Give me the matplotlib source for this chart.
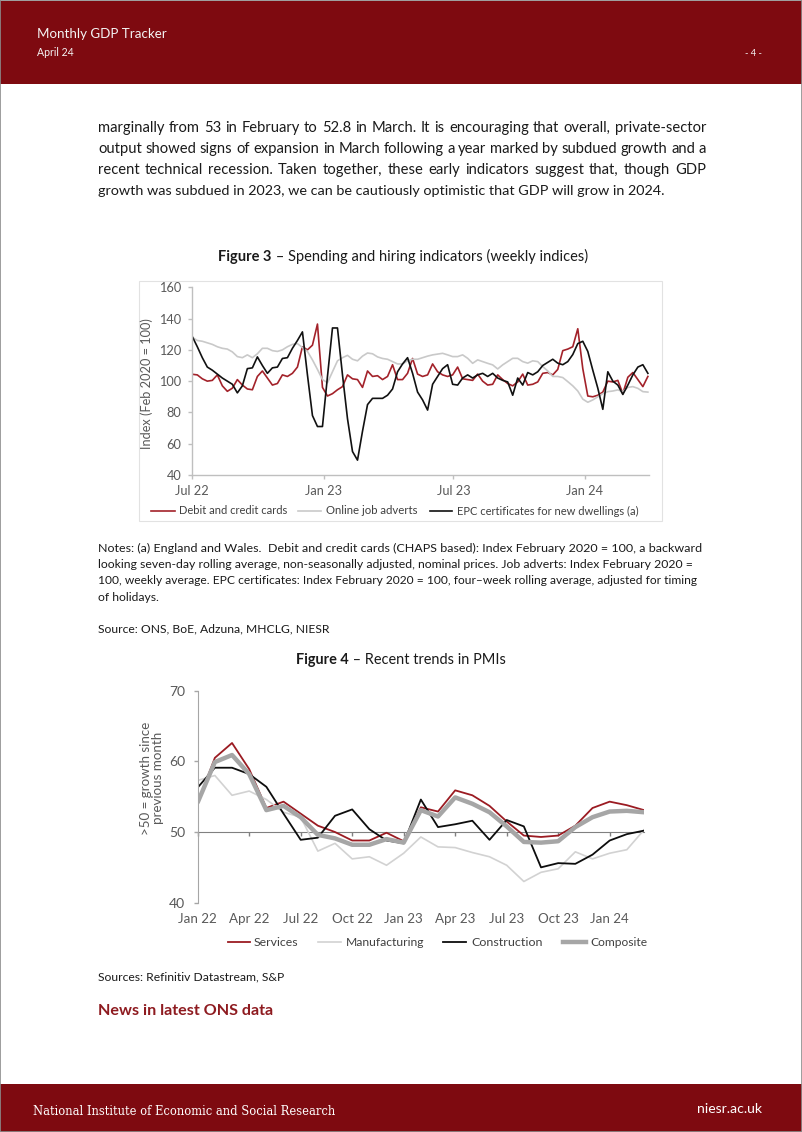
import matplotlib
matplotlib.use('Agg')
import matplotlib.pyplot as plt
from matplotlib.patches import Rectangle
from matplotlib.lines import Line2D
import numpy as np
import pandas as pd

plt.rcParams['font.family'] = ['Lato', 'DejaVu Sans']

# ---------------- data: Figure 3 (weekly indices, Feb 2020 = 100) ----------------
week_start = '2022-07-01'
cards = [104.4, 104, 101.5, 100, 100.5, 104, 97, 93.5, 95.5, 101,
         97.5, 95, 94.5, 103, 106.5, 102, 97.5, 98.5, 104, 103,
         105, 109, 122, 120, 123, 136.5, 96, 90.5, 92, 94.5,
         96.5, 104, 101.5, 101, 96, 106.5, 103, 103.5, 101, 103,
         110.5, 101, 101, 105, 114.5, 104.5, 103, 104, 111, 106,
         104, 103, 104, 109, 101.5, 101, 100.5, 104.5, 100, 97.5,
         98, 104, 101, 98.5, 97, 99.5, 104.5, 97.5, 98, 99.5,
         105, 105.5, 104, 107.5, 119.5, 120.5, 122, 133.5, 108, 90.5,
         90, 91, 93, 100, 99.5, 100.5, 92, 102.5, 105.5, 101,
         96.5, 103]
job_adverts = [128, 126, 125.5, 124.5, 123.5, 122, 121, 120.5, 118.7, 115.7,
               115, 116.8, 115, 117.5, 121, 121, 119.5, 119, 120, 122,
               123.5, 124, 121.5, 119, 113.6, 107.5, 101, 99, 106, 113,
               115, 116.5, 114, 113, 116, 118, 117.5, 115.5, 114.5, 114,
               112.5, 111, 111, 113, 114, 114, 115, 116, 116.8, 117.3,
               117.8, 116.8, 115.7, 115.7, 116.8, 114.6, 111.4, 113.6, 112.5, 111.4,
               110.4, 107.8, 110.4, 112.5, 114.6, 114.6, 112.5, 111.5, 113, 112.5,
               109.3, 106.5, 103, 103, 102.3, 99.7, 97, 93.7, 88.5, 86.5,
               88, 90, 92, 93.3, 93.7, 94.4, 93.3, 96, 96.5, 95.4,
               93.3, 93]
epc = [128.5, 122, 115, 109, 107, 104.5, 102, 100, 98, 92.5,
       97, 108, 108.5, 115.5, 110, 105, 108.5, 109, 114.5, 115,
       121, 126, 131.5, 104, 78, 71, 71, 103, 134, 134,
       104, 76, 55, 49.5, 68, 85, 89, 89, 89, 91,
       95, 106, 111, 115, 105, 93, 88, 81.5, 98, 103,
       108, 110.5, 98, 97.5, 102, 104, 102, 104, 105, 103,
       105, 102, 100.5, 99.5, 91, 102, 97.5, 105.5, 104, 106,
       110, 112, 114, 111.5, 110.5, 112.5, 117, 124, 125.5, 119,
       107, 95.5, 82, 106, 100, 97.5, 91.5, 97.5, 104, 109,
       110.5, 105]
fig3_ticks = ['2022-07-01', '2023-01-01', '2023-07-01', '2024-01-01']
fig3_ticklabels = ['Jul 22', 'Jan 23', 'Jul 23', 'Jan 24']
fig3_xrange = ['2022-07-01', '2024-03-31']
fig3_series = ['Debit and credit cards', 'Online job adverts',
               'EPC certificates for new dwellings (a)']

# ---------------- data: Figure 4 (PMIs, monthly) ----------------
pmi_start = '2022-01-01'
services = [54.1, 60.5, 62.6, 58.9, 53.4, 54.3, 52.6, 50.9, 50.0, 48.8, 48.8, 49.9,
            48.7, 53.5, 52.9, 55.9, 55.2, 53.7, 51.5, 49.5, 49.3, 49.5, 50.9, 53.4,
            54.3, 53.8, 53.1]
manufacturing = [57.3, 58.0, 55.2, 55.8, 54.6, 52.8, 52.1, 47.3, 48.4, 46.2, 46.5, 45.3,
                 47.0, 49.3, 47.9, 47.8, 47.1, 46.5, 45.3, 43.0, 44.3, 44.8, 47.2, 46.2,
                 47.0, 47.5, 50.3]
construction = [56.3, 59.1, 59.1, 58.2, 56.4, 52.6, 48.9, 49.2, 52.3, 53.2, 50.4, 48.8,
                48.4, 54.6, 50.7, 51.1, 51.6, 48.9, 51.7, 50.8, 45.0, 45.6, 45.5, 46.8,
                48.8, 49.7, 50.2]
composite = [54.2, 59.9, 60.9, 58.2, 53.1, 53.7, 52.1, 49.6, 49.1, 48.2, 48.2, 49.0,
             48.5, 53.1, 52.2, 54.9, 54.0, 52.8, 50.8, 48.6, 48.5, 48.7, 50.7, 52.1,
             52.9, 53.0, 52.8]
pmi_ticklabels = ['Jan 22', 'Apr 22', 'Jul 22', 'Oct 22', 'Jan 23', 'Apr 23',
                  'Jul 23', 'Oct 23', 'Jan 24']
pmi_series = ['Services', 'Manufacturing', 'Construction', 'Composite']

# ---------------- page ----------------
W, H = 802, 1132
fig = plt.figure(figsize=(W / 100, H / 100), dpi=100)
R = fig.canvas.get_renderer()

BAND = '#7E0A10'
TXT = '#1A1A1A'
AXT = '#595959'


def fx(x):
    return x / W


def fy(y):
    return 1 - y / H


def ptext(x, y, s, size, ha='left', va='baseline', **kw):
    return fig.text(fx(x), fy(y), s, fontsize=size, ha=ha, va=va, **kw)


def width_of(t):
    return t.get_window_extent(renderer=R).width


def fit_text(x, y, s, width, size0=10, **kw):
    t = ptext(x, y, s, size0, **kw)
    t.set_fontsize(size0 * width / width_of(t))
    return t


def justify(line, y, x0, x1, size, **kw):
    words = line.split(' ')
    ts, ws = [], []
    for w in words:
        t = ptext(0, y, w, size, **kw)
        ts.append(t)
        ws.append(width_of(t))
    gap = ((x1 - x0) - sum(ws)) / (len(words) - 1)
    x = x0
    for t, wd in zip(ts, ws):
        t.set_x(fx(x))
        x += wd + gap


def mixed_title(x0, x1, y, bold, rest, size0=10):
    t1 = ptext(0, y, bold, size0, fontweight='bold', color=TXT)
    t2 = ptext(0, y, rest, size0, color=TXT)
    k = (x1 - x0) / (width_of(t1) + width_of(t2))
    t1.set_fontsize(size0 * k)
    t2.set_fontsize(size0 * k)
    w1 = width_of(t1)
    t1.set_x(fx(x0))
    t2.set_x(fx(x0 + w1))


# header / footer bands
fig.add_artist(Rectangle((0, fy(84)), 1, 83 / H, transform=fig.transFigure,
                         facecolor=BAND, edgecolor='none', zorder=0))
fig.add_artist(Rectangle((0, 0), 1, (1132 - 1084) / H, transform=fig.transFigure,
                         facecolor=BAND, edgecolor='none', zorder=0))
fig.add_artist(Rectangle((0, 0), 1, 1, transform=fig.transFigure, fill=False,
                         edgecolor='#8C8C8C', lw=1.2, zorder=5))

fit_text(37, 38, 'Monthly GDP Tracker', 129, color='#F4F4F4')
fit_text(37, 56, 'April 24', 37, color='#F4F4F4')
fit_text(762, 56, '- 4 -', 17, color='#F4F4F4', ha='right')
fit_text(33, 1115, 'National Institute of Economic and Social Research', 304,
         color='white', family=['DejaVu Serif'])
fit_text(762, 1113, 'niesr.ac.uk', 65, color='white', ha='right')

# body text
body = ['marginally from 53 in February to 52.8 in March. It is encouraging that overall, private-sector',
        'output showed signs of expansion in March following a year marked by subdued growth and a',
        'recent technical recession. Taken together, these early indicators suggest that, though GDP']
last_line = 'growth was subdued in 2023, we can be cautiously optimistic that GDP will grow in 2024.'
for i, line in enumerate(body):
    justify(line, 132 + 21 * i, 98, 706, 10.6, color=TXT)
fit_text(98, 195, last_line, 572, size0=10.6, color=TXT)

mixed_title(218, 585, 261, 'Figure 3', ' \u2013 Spending and hiring indicators (weekly indices)')

# ---------------- Figure 3 ----------------
fig.add_artist(Rectangle((fx(139), fy(521)), (662 - 139) / W, (521 - 281) / H,
                         transform=fig.transFigure, fill=False, edgecolor='#E2E2E2',
                         lw=0.8, zorder=0))
ax1 = fig.add_axes([fx(192.3), fy(475), (649.3 - 192.3) / W, (475 - 287.3) / H])
weeks = pd.date_range(week_start, periods=len(cards), freq='7D').values
c3 = ['#A3222A', '#C9C9C9', '#111111']
ax1.plot(weeks, cards, color=c3[0], lw=1.2)
ax1.plot(weeks, job_adverts, color=c3[1], lw=1.2)
ax1.plot(weeks, epc, color=c3[2], lw=1.2)
ax1.set_xlim(np.array(fig3_xrange, dtype='datetime64[D]'))
ax1.set_ylim(40, 160)
ax1.set_yticks(np.arange(40, 161, 20))
ax1.set_xticks(np.array(fig3_ticks, dtype='datetime64[D]'))
ax1.set_xticklabels(fig3_ticklabels)
for s in ['top', 'right']:
    ax1.spines[s].set_visible(False)
for s in ['left', 'bottom']:
    ax1.spines[s].set_color('#BFBFBF')
    ax1.spines[s].set_linewidth(1.0)
ax1.tick_params(axis='both', colors='#BFBFBF', labelcolor=AXT, labelsize=9.2,
                length=3, width=1.0, direction='out')
ax1.tick_params(axis='y', pad=5)
ax1.tick_params(axis='x', pad=4)
ptext(147, 384, 'Index (Feb 2020 = 100)', 9.2, ha='center', va='center',
      rotation=90, color=AXT)

leg3 = [(151, 175, 179, 108), (298, 321, 326, 92), (430, 452, 457, 182)]
for (a, b, tx, tw), col, lab in zip(leg3, c3, fig3_series):
    fig.add_artist(Line2D([fx(a), fx(b)], [fy(511), fy(511)], color=col, lw=1.2,
                          transform=fig.transFigure))
    fit_text(tx, 511, lab, tw, size0=8.4, va='center', color='#404040')

# notes
notes = ['Notes: (a) England and Wales.  Debit and credit cards (CHAPS based): Index February 2020 = 100, a backward',
         'looking seven-day rolling average, non-seasonally adjusted, nominal prices. Job adverts: Index February 2020 =',
         '100, weekly average. EPC certificates: Index February 2020 = 100, four\u2013week rolling average, adjusted for timing']
notes_end = [698, 692, 692]
nb = [552, 568, 584.5]
for line, yb, xe in zip(notes, nb, notes_end):
    fit_text(98, yb, line, xe - 98, size0=8.75, color=TXT)
ptext(98, 601, 'of holidays.', 8.75, color=TXT)
ptext(98, 632, 'Source: ONS, BoE, Adzuna, MHCLG, NIESR', 8.75, color=TXT)

mixed_title(296, 505, 664, 'Figure 4', ' \u2013 Recent trends in PMIs')

# ---------------- Figure 4 ----------------
ax2 = fig.add_axes([fx(197.7), fy(902.7), (644 - 197.7) / W, (902.7 - 690.7) / H])
months = pd.date_range(pmi_start, periods=len(services), freq='MS')
month_labels = [m.strftime('%b %y') for m in months]
xi = np.arange(len(months))
c4 = ['#9B1B22', '#D2D2D2', '#0D0D0D', '#A6A6A6']
ax2.plot(xi, services, color=c4[0], lw=1.3)
ax2.plot(xi, manufacturing, color=c4[1], lw=1.2)
ax2.plot(xi, construction, color=c4[2], lw=1.3)
ax2.plot(xi, composite, color=c4[3], lw=3.2, solid_capstyle='round')
ax2.set_xlim(0, len(months) - 1)
ax2.set_ylim(40, 70)
ax2.set_yticks([40, 50, 60, 70])
ax2.set_xticks([month_labels.index(l) for l in pmi_ticklabels])
ax2.set_xticklabels(pmi_ticklabels)
for s in ['top', 'right']:
    ax2.spines[s].set_visible(False)
ax2.spines['left'].set_color('#A6A6A6')
ax2.spines['bottom'].set_position(('data', 50))
ax2.spines['bottom'].set_color('#808080')
ax2.spines['bottom'].set_zorder(0.5)
ax2.tick_params(axis='y', colors='#A6A6A6', labelcolor=AXT, labelsize=10,
                length=3, width=1, direction='out', pad=6)
ax2.tick_params(axis='x', colors='#808080', labelcolor=AXT, labelsize=9.6,
                length=3, width=1, direction='out', pad=55.5)
ptext(152, 778, '>50 = growth since\nprevious month', 9.6, ha='center', va='center',
      rotation=90, color=AXT, linespacing=0.95)

leg4 = [(228, 250, 254, 44), (318, 341, 346, 78), (443, 466, 471, 71), (563, 586, 590, 57)]
lw4 = [1.3, 1.2, 1.3, 3.2]
for (a, b, tx, tw), col, lw, lab in zip(leg4, c4, lw4, pmi_series):
    fig.add_artist(Line2D([fx(a), fx(b)], [fy(942), fy(942)], color=col, lw=lw,
                          transform=fig.transFigure))
    fit_text(tx, 942, lab, tw, size0=9.2, va='center', color='#404040')

ptext(98, 980, 'Sources: Refinitiv Datastream, S&P', 8.75, color=TXT)
ptext(98, 1015, 'News in latest ONS data', 11.6, fontweight='bold', color='#8E1B20')

fig.savefig('out.png', dpi=100)
